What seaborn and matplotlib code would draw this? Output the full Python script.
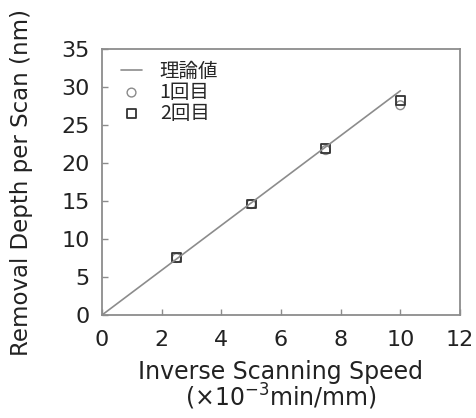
import matplotlib
matplotlib.use("Agg")
import matplotlib.pyplot as plt
import seaborn as sns
import pandas as pd

sns.set_theme(style="white")
plt.rcParams['font.family'] = ['DejaVu Sans', 'Noto Sans CJK JP']

# Measurements
speed = [2.5, 5.0, 7.5, 10.0]
run1 = [7.5, 14.6, 21.7, 27.6]
run2 = [7.6, 14.6, 21.9, 28.2]

# Theoretical depth line
theory_x = [0.0, 10.0]
theory_y = [0.0, 29.5]

df1 = pd.DataFrame({"x": speed, "y": run1})
df2 = pd.DataFrame({"x": speed, "y": run2})
dft = pd.DataFrame({"x": theory_x, "y": theory_y})

fig = plt.figure(figsize=(4.76, 4.18), dpi=100)
ax = fig.add_axes([102/476, 1 - 315/418, 358/476, 266/418])

sns.lineplot(data=dft, x="x", y="y", ax=ax, color="#8c8c8c", lw=1.2, label="理論値")
sns.scatterplot(data=df1, x="x", y="y", ax=ax, marker="o", s=40,
                facecolor="none", edgecolor="#8a8a8a", linewidth=1.0, label="1回目")
sns.scatterplot(data=df2, x="x", y="y", ax=ax, marker="s", s=40,
                facecolor="none", edgecolor="#333333", linewidth=1.3, label="2回目")

ax.set_xlim(0, 12)
ax.set_ylim(0, 35)
ax.set_xticks(range(0, 13, 2))
ax.set_yticks(range(0, 36, 5))
for s in ax.spines.values():
    s.set_color("#8c8c8c")
    s.set_linewidth(1.3)
ax.tick_params(direction="in", length=4, width=1, color="#8c8c8c",
               labelsize=16, labelcolor="#222222", left=True, bottom=True)
ax.tick_params(axis="y", pad=9)
ax.tick_params(axis="x", pad=11)

ax.set_xlabel("Inverse Scanning Speed\n(×10$^{-3}$min/mm)", fontsize=17,
              color="#222222", labelpad=7, linespacing=0.9)
ax.set_ylabel("Removal Depth per Scan (nm)", fontsize=16.5, color="#222222", labelpad=20)

leg = ax.legend(loc="upper left", frameon=False,
                prop={"family": ["Noto Sans CJK JP", "DejaVu Sans"], "size": 14},
                handlelength=1.1, borderpad=0.1, labelspacing=0.0,
                handletextpad=0.9, bbox_to_anchor=(0.02, 1.0))

fig.savefig("out.png", dpi=100)
